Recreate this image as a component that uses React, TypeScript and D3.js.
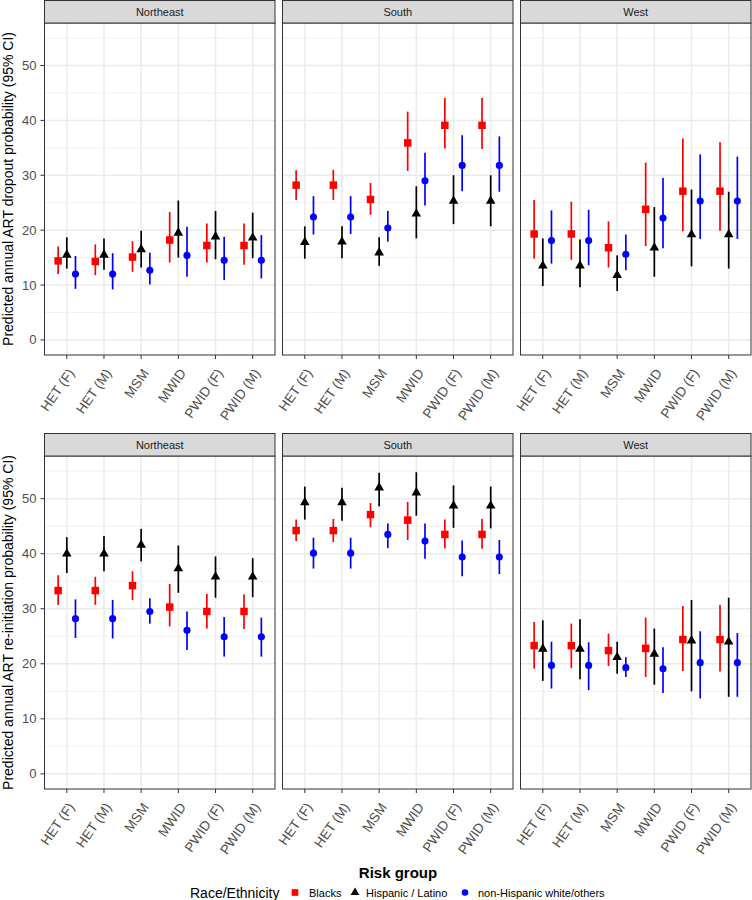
import React from "react";
import * as d3 from "d3";

const regions = ["Northeast", "South", "West"];
const riskGroups = ["HET (F)", "HET (M)", "MSM", "MWID", "PWID (F)", "PWID (M)"];
const raceGroups = ["Blacks", "Hispanic / Latino", "non-Hispanic white/others"];
const yTicks = [0, 10, 20, 30, 40, 50];
const yMinorTicks = [5, 15, 25, 35, 45, 55];
const measureTitles = [
  "Predicted annual ART dropout probability (95% CI)",
  "Predicted annual ART re-initiation probability (95% CI)",
];

// [estimate, lower, upper] per risk group
const dropoutNortheastBlacks = [[14.4, 12.0, 17.0], [14.3, 11.8, 17.4], [15.1, 12.4, 18.0], [18.2, 14.1, 23.3], [17.2, 14.1, 21.2], [17.2, 13.7, 21.2]];
const dropoutNortheastHispanic = [[15.5, 13.0, 18.7], [15.5, 12.8, 18.5], [16.5, 13.2, 19.9], [19.5, 15.0, 25.4], [18.8, 14.7, 23.5], [18.6, 14.9, 23.2]];
const dropoutNortheastWhite = [[12.0, 9.3, 15.3], [12.0, 9.2, 15.8], [12.7, 10.1, 15.9], [15.4, 11.5, 20.6], [14.5, 10.9, 18.8], [14.5, 11.2, 19.1]];

const dropoutSouthBlacks = [[28.2, 25.5, 30.9], [28.2, 25.5, 31.0], [25.6, 22.8, 28.6], [35.9, 30.8, 41.6], [39.1, 34.9, 44.1], [39.1, 34.8, 44.1]];
const dropoutSouthHispanic = [[17.8, 14.8, 20.7], [17.9, 14.9, 20.7], [15.9, 13.5, 18.7], [23.0, 18.5, 28.0], [25.3, 21.1, 30.0], [25.3, 20.7, 30.0]];
const dropoutSouthWhite = [[22.4, 19.2, 26.2], [22.4, 19.3, 26.2], [20.4, 17.9, 23.5], [29.0, 24.5, 34.1], [31.8, 27.1, 37.3], [31.8, 27.0, 37.1]];

const dropoutWestBlacks = [[19.3, 14.8, 25.5], [19.3, 14.6, 25.2], [16.8, 13.2, 21.6], [23.8, 17.1, 32.3], [27.1, 19.8, 36.7], [27.1, 19.9, 36.0]];
const dropoutWestHispanic = [[13.5, 9.8, 18.5], [13.5, 9.6, 18.3], [11.8, 8.9, 15.4], [16.8, 11.5, 24.2], [19.2, 13.4, 27.4], [19.2, 13.0, 27.0]];
const dropoutWestWhite = [[18.1, 13.9, 23.6], [18.1, 13.6, 23.7], [15.6, 12.7, 19.2], [22.2, 16.7, 29.5], [25.3, 18.4, 33.8], [25.3, 18.4, 33.4]];

const reinitNortheastBlacks = [[33.3, 30.7, 36.1], [33.3, 30.7, 35.8], [34.2, 31.6, 36.8], [30.3, 26.8, 34.5], [29.5, 26.4, 32.7], [29.5, 26.3, 32.6]];
const reinitNortheastHispanic = [[40.0, 36.5, 43.0], [40.0, 36.8, 43.2], [41.6, 38.6, 44.5], [37.3, 32.9, 41.5], [35.8, 32.0, 39.5], [35.8, 32.1, 39.2]];
const reinitNortheastWhite = [[28.2, 24.7, 31.7], [28.2, 24.6, 31.6], [29.5, 27.3, 31.9], [26.1, 22.5, 29.5], [24.9, 21.3, 28.5], [24.9, 21.3, 28.4]];

const reinitSouthBlacks = [[44.2, 42.3, 46.2], [44.2, 42.1, 46.3], [47.1, 44.8, 49.2], [46.1, 42.5, 49.4], [43.5, 41.0, 46.2], [43.5, 40.9, 46.3]];
const reinitSouthHispanic = [[49.3, 46.2, 52.2], [49.3, 46.0, 52.0], [52.0, 48.6, 54.7], [51.1, 46.9, 54.8], [48.7, 44.7, 52.4], [48.7, 44.6, 52.2]];
const reinitSouthWhite = [[40.1, 37.3, 42.9], [40.1, 37.3, 42.9], [43.5, 41.0, 45.5], [42.3, 39.1, 45.5], [39.4, 35.9, 42.4], [39.4, 36.3, 42.5]];

const reinitWestBlacks = [[23.3, 19.1, 27.6], [23.3, 19.2, 27.3], [22.4, 19.6, 25.5], [22.8, 17.6, 28.4], [24.4, 18.7, 30.5], [24.4, 18.6, 30.7]];
const reinitWestHispanic = [[22.7, 16.9, 27.9], [22.7, 17.2, 28.1], [21.2, 18.2, 24.0], [21.8, 16.2, 26.4], [24.2, 15.0, 31.6], [24.0, 14.0, 32.0]];
const reinitWestWhite = [[19.7, 15.5, 24.0], [19.7, 15.2, 23.9], [19.3, 17.6, 21.2], [19.1, 14.7, 23.0], [20.2, 13.7, 25.9], [20.2, 14.0, 25.6]];

const panelData = [
  [
    [dropoutNortheastBlacks, dropoutNortheastHispanic, dropoutNortheastWhite],
    [dropoutSouthBlacks, dropoutSouthHispanic, dropoutSouthWhite],
    [dropoutWestBlacks, dropoutWestHispanic, dropoutWestWhite],
  ],
  [
    [reinitNortheastBlacks, reinitNortheastHispanic, reinitNortheastWhite],
    [reinitSouthBlacks, reinitSouthHispanic, reinitSouthWhite],
    [reinitWestBlacks, reinitWestHispanic, reinitWestWhite],
  ],
];

const raceColors = ["#FF0000", "#000000", "#0000FF"];
const raceSymbols = [d3.symbolSquare, d3.symbolTriangle, d3.symbolCircle];
const raceSymbolSizes = [56, 40, 40];
const legendSymbolSizes = [44, 34, 34];

const W = 752;
const H = 900;
const FONT = "'Liberation Sans', Arial, Helvetica, sans-serif";
const panelLefts = [44.5, 282.5, 520.5];
const panelW = 230.5;
const rows = [
  { stripTop: 0.5, panelTop: 23, panelBottom: 355 },
  { stripTop: 433.5, panelTop: 456, panelBottom: 789 },
];
const dodge = 0.233;
const labelAngle = 55;

function Panel({ row, col }: { row: number; col: number }) {
  const r = rows[row];
  const left = panelLefts[col];
  const x = d3.scaleLinear().domain([0.4, 6.6]).range([left, left + panelW]);
  const y = d3.scaleLinear().domain([-2.75, 57.75]).range([r.panelBottom, r.panelTop]);
  const data = panelData[row][col];
  return (
    <g>
      <rect x={left} y={r.panelTop} width={panelW} height={r.panelBottom - r.panelTop} fill="#FFFFFF" />
      {yMinorTicks.map((t) => (
        <line key={"mn" + t} x1={left} x2={left + panelW} y1={y(t)} y2={y(t)} stroke="#EBEBEB" strokeWidth={0.75} />
      ))}
      {yTicks.map((t) => (
        <line key={"mj" + t} x1={left} x2={left + panelW} y1={y(t)} y2={y(t)} stroke="#EBEBEB" strokeWidth={1.5} />
      ))}
      {riskGroups.map((g, i) => (
        <line key={"vx" + g} x1={x(i + 1)} x2={x(i + 1)} y1={r.panelTop} y2={r.panelBottom} stroke="#EBEBEB" strokeWidth={1.5} />
      ))}
      {data.map((series, k) => (
        <g key={"s" + k}>
          {series.map((d, i) => {
            const cx = x(i + 1 + (k - 1) * dodge);
            return (
              <g key={i}>
                <line x1={cx} x2={cx} y1={y(d[1])} y2={y(d[2])} stroke={raceColors[k]} strokeWidth={1.7} />
                <path
                  d={d3.symbol().type(raceSymbols[k]).size(raceSymbolSizes[k])() || ""}
                  transform={`translate(${cx},${y(d[0])})`}
                  fill={raceColors[k]}
                />
              </g>
            );
          })}
        </g>
      ))}
      <rect x={left} y={r.panelTop} width={panelW} height={r.panelBottom - r.panelTop} fill="none" stroke="#333333" strokeWidth={1} />
      {/* strip */}
      <rect x={left} y={r.stripTop} width={panelW} height={r.panelTop - r.stripTop} fill="#D9D9D9" stroke="#333333" strokeWidth={1} />
      <text
        x={left + panelW / 2}
        y={(r.stripTop + r.panelTop) / 2}
        textAnchor="middle"
        dominantBaseline="central"
        fontSize={11}
        fill="#1A1A1A"
        fontFamily={FONT}
      >
        {regions[col]}
      </text>
      {/* x ticks */}
      {riskGroups.map((g, i) => (
        <g key={"xt" + g}>
          <line x1={x(i + 1)} x2={x(i + 1)} y1={r.panelBottom} y2={r.panelBottom + 4} stroke="#333333" strokeWidth={1} />
          <text
            transform={`translate(${x(i + 1) + 4.5},${r.panelBottom + 15.5}) rotate(${-labelAngle})`}
            textAnchor="end"
            dominantBaseline="central"
            fontSize={13.5}
            fill="#4D4D4D"
            fontFamily={FONT}
          >
            {g}
          </text>
        </g>
      ))}
      {/* y axis on first column */}
      {col === 0 &&
        yTicks.map((t) => (
          <g key={"yt" + t}>
            <line x1={left - 4} x2={left} y1={y(t)} y2={y(t)} stroke="#333333" strokeWidth={1} />
            <text x={left - 8} y={y(t)} textAnchor="end" dominantBaseline="central" fontSize={13} fill="#4D4D4D" fontFamily={FONT}>
              {t}
            </text>
          </g>
        ))}
    </g>
  );
}

export default function App() {
  const legendY = 892.5;
  const legendKeys = [295, 355, 465];
  const legendLabels = [309, 366, 478];
  return (
    <svg width={W} height={H} style={{ position: "absolute", left: 0, top: 0, background: "#FFFFFF" }}>
      <rect x={0} y={0} width={W} height={H} fill="#FFFFFF" />
      {rows.map((r, ri) => (
        <g key={ri}>
          {regions.map((reg, ci) => (
            <Panel key={reg} row={ri} col={ci} />
          ))}
          <text
            transform={`translate(8,${(r.panelTop + r.panelBottom) / 2}) rotate(-90)`}
            textAnchor="middle"
            dominantBaseline="central"
            fontSize={14}
            fill="#000000"
            fontFamily={FONT}
          >
            {measureTitles[ri]}
          </text>
        </g>
      ))}
      <text x={398} y={872} textAnchor="middle" dominantBaseline="central" fontSize={15} fontWeight="bold" fill="#000000" fontFamily={FONT}>
        Risk group
      </text>
      <text x={190} y={legendY} dominantBaseline="central" fontSize={14} fill="#000000" fontFamily={FONT}>
        Race/Ethnicity
      </text>
      {raceGroups.map((g, k) => (
        <g key={g}>
          <path
            d={d3.symbol().type(raceSymbols[k]).size(legendSymbolSizes[k])() || ""}
            transform={`translate(${legendKeys[k]},${legendY})`}
            fill={raceColors[k]}
          />
          <text x={legendLabels[k]} y={legendY} dominantBaseline="central" fontSize={11} fill="#000000" fontFamily={FONT}>
            {g}
          </text>
        </g>
      ))}
    </svg>
  );
}
